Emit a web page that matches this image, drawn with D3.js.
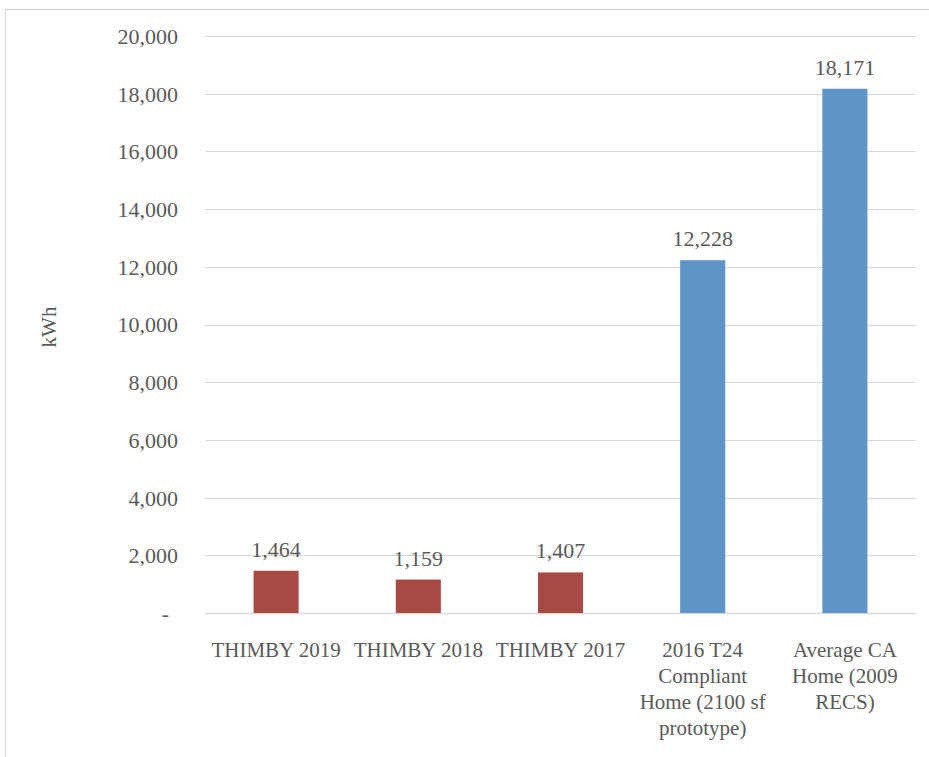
<!DOCTYPE html>
<html>
<head>
<meta charset="utf-8">
<script src="https://cdn.jsdelivr.net/npm/d3@7"></script>
<style>
  html, body { margin: 0; padding: 0; background: #fff; }
  svg { display: block; }
  text { font-family: "Liberation Serif", "Times New Roman", serif; fill: #595959; }
</style>
</head>
<body>
<svg id="chart" width="929" height="757"></svg>
<script>
// Annual electricity use by home
const categories = [
  "THIMBY 2019",
  "THIMBY 2018",
  "THIMBY 2017",
  "2016 T24 Compliant Home (2100 sf prototype)",
  "Average CA Home (2009 RECS)"
];
const values = [1464, 1159, 1407, 12228, 18171];
const groups = ["thimby", "thimby", "thimby", "reference", "reference"];
const yTicks = [0, 2000, 4000, 6000, 8000, 10000, 12000, 14000, 16000, 18000, 20000];
const yLabel = "kWh";

const W = 929, H = 757;
const margin = { top: 36, right: 13, bottom: 144, left: 205 };
const innerW = W - margin.left - margin.right;
const innerH = H - margin.top - margin.bottom;

const colors = { thimby: "#A74A43", reference: "#5F94C9" };
const fmt = d3.format(",");

const svg = d3.select("#chart");

// outer frame (left and top edges visible)
svg.append("path")
  .attr("d", `M5.5,${H} V9.5 H${W}`)
  .attr("fill", "none")
  .attr("stroke", "#D9D9D9")
  .attr("stroke-width", 1.3);

const g = svg.append("g").attr("transform", `translate(${margin.left},${margin.top})`);

const x = d3.scaleBand().domain(categories).range([0, innerW]).padding(0);
const y = d3.scaleLinear().domain([0, 20000]).range([innerH, 0]);

// gridlines
g.append("g")
  .selectAll("line")
  .data(yTicks)
  .join("line")
  .attr("x1", 0).attr("x2", innerW)
  .attr("y1", d => Math.round(y(d)) + 0.5)
  .attr("y2", d => Math.round(y(d)) + 0.5)
  .attr("stroke", "#D9D9D9")
  .attr("stroke-width", d => d === 0 ? 1.6 : 1.2);

// y axis labels
const yAxis = d3.axisLeft(y)
  .tickValues(yTicks)
  .tickSize(0)
  .tickPadding(27)
  .tickFormat(d => d === 0 ? "-" : fmt(d));
const ya = g.append("g").call(yAxis);
ya.select(".domain").remove();
ya.selectAll("text")
  .attr("font-family", "Liberation Serif, serif")
  .attr("font-size", 22)
  .attr("fill", "#595959")
  .attr("dy", "0.34em")
  .attr("dx", d => d === 0 ? -9 : 0);

// bars
const barW = x.bandwidth() * 0.317;
g.append("g")
  .selectAll("rect")
  .data(values)
  .join("rect")
  .attr("x", (d, i) => x(categories[i]) + (x.bandwidth() - barW) / 2)
  .attr("width", barW)
  .attr("y", d => y(d))
  .attr("height", d => innerH - y(d))
  .attr("fill", (d, i) => colors[groups[i]]);

// value labels
g.append("g")
  .selectAll("text")
  .data(values)
  .join("text")
  .attr("x", (d, i) => x(categories[i]) + x.bandwidth() / 2)
  .attr("y", d => y(d) - 14)
  .attr("text-anchor", "middle")
  .attr("font-size", 22)
  .text(d => fmt(d));

// category labels, wrapped to the band width
const xa = g.append("g").attr("transform", `translate(0,${innerH})`);
const lineH = 26;
categories.forEach(cat => {
  const t = xa.append("text")
    .attr("x", x(cat) + x.bandwidth() / 2)
    .attr("y", 44)
    .attr("text-anchor", "middle")
    .attr("font-size", 21);
  const words = cat.split(" ");
  let line = [];
  let ts = t.append("tspan").attr("x", x(cat) + x.bandwidth() / 2).attr("dy", 0);
  let n = 0;
  words.forEach(w => {
    line.push(w);
    ts.text(line.join(" "));
    if (ts.node().getComputedTextLength() > 140 && line.length > 1) {
      line.pop();
      ts.text(line.join(" "));
      line = [w];
      n++;
      ts = t.append("tspan")
        .attr("x", x(cat) + x.bandwidth() / 2)
        .attr("dy", lineH)
        .text(w);
    }
  });
});

// y axis title
svg.append("text")
  .attr("transform", "translate(56,327) rotate(-90)")
  .attr("text-anchor", "middle")
  .attr("font-size", 21)
  .text(yLabel);
</script>
</body>
</html>
